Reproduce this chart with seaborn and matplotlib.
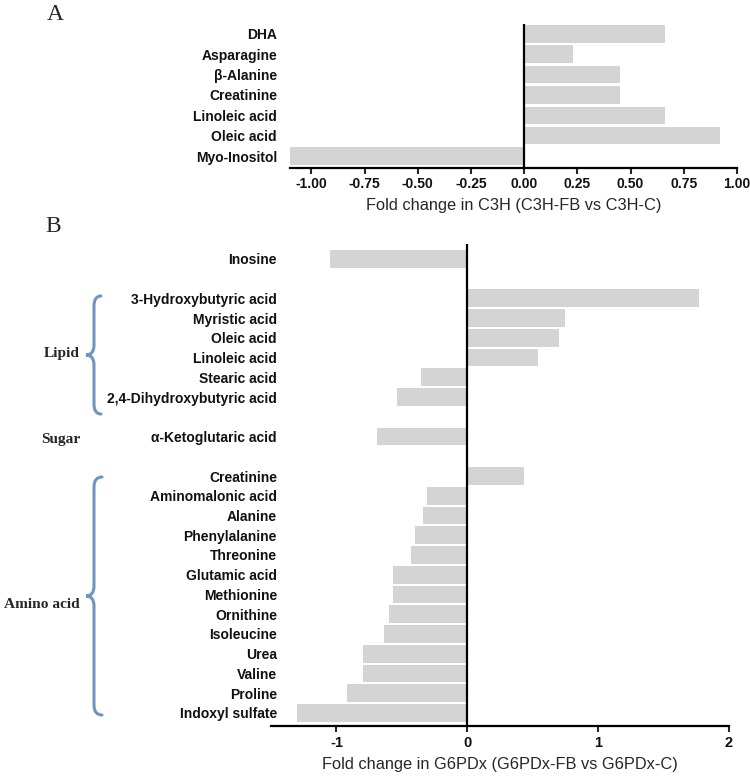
import matplotlib
matplotlib.use('Agg')
import matplotlib.pyplot as plt
from matplotlib.path import Path
from matplotlib.patches import PathPatch
import seaborn as sns
import pandas as pd

sns.set_style('white')
plt.rcParams['font.family'] = ['Liberation Sans', 'DejaVu Sans']
plt.rcParams['axes.unicode_minus'] = False

# ---- data ----
a_names = ['DHA', 'Asparagine', 'β-Alanine', 'Creatinine', 'Linoleic acid', 'Oleic acid', 'Myo-Inositol']
a_vals = [0.66, 0.23, 0.45, 0.45, 0.66, 0.92, -1.10]

b_names = ['Inosine',
           '3-Hydroxybutyric acid', 'Myristic acid', 'Oleic acid', 'Linoleic acid',
           'Stearic acid', '2,4-Dihydroxybutyric acid',
           'α-Ketoglutaric acid',
           'Creatinine', 'Aminomalonic acid', 'Alanine', 'Phenylalanine', 'Threonine',
           'Glutamic acid', 'Methionine', 'Ornithine', 'Isoleucine', 'Urea', 'Valine',
           'Proline', 'Indoxyl sulfate']
b_vals = [-1.05,
          1.77, 0.75, 0.70, 0.54, -0.35, -0.54,
          -0.69,
          0.43, -0.31, -0.34, -0.40, -0.43, -0.57, -0.57, -0.60, -0.64, -0.80, -0.80,
          -0.92, -1.30]
# empty rows between groups
b_order = (b_names[:1] + [' '] + b_names[1:7] + ['  '] + b_names[7:8] + ['   '] + b_names[8:])

groups = ['Lipid', 'Sugar', 'Amino acid']

W, H = 750, 777
fig = plt.figure(figsize=(W / 100, H / 100), dpi=100)

def fx(x):
    return x / W

def fy(y):
    return 1 - y / H

bar_col = '#d4d4d4'

# ---- panel A ----
axA = fig.add_axes([fx(290), fy(167.5), fx(737) - fx(290), fy(23.7) - fy(167.5)])
dfa = pd.DataFrame({'name': a_names, 'val': a_vals})
sns.barplot(data=dfa, x='val', y='name', order=a_names, color=bar_col,
            saturation=1, width=0.86, linewidth=0, ax=axA)
axA.set_xlim(-1.1, 1.0)
axA.set_ylim(6.56, -0.5)
a_ticks = [-1.0, -0.75, -0.5, -0.25, 0, 0.25, 0.5, 0.75, 1.0]
axA.set_xticks(a_ticks)
axA.set_xticklabels(['%.2f' % t for t in a_ticks])
axA.set_xlabel('Fold change in C3H (C3H-FB vs C3H-C)', fontsize=11.8, labelpad=5)
axA.set_ylabel('')
axA.tick_params(axis='y', length=0, pad=9.4, labelsize=10)
axA.tick_params(axis='x', length=4, width=1.5, direction='out', labelsize=10, pad=3,
                bottom=True)

# ---- panel B ----
axB = fig.add_axes([fx(271), fy(726), fx(729) - fx(271), fy(244) - fy(726)])
dfb = pd.DataFrame({'name': b_names, 'val': b_vals})
sns.barplot(data=dfb, x='val', y='name', order=b_order, color=bar_col,
            saturation=1, width=0.9, linewidth=0, ax=axB)
axB.set_xlim(-1.5, 2.0)
axB.set_ylim(23.66, -0.75)
axB.set_xticks([-1, 0, 1, 2])
axB.set_xlabel('Fold change in G6PDx (G6PDx-FB vs G6PDx-C)', fontsize=11.8, labelpad=5)
axB.set_ylabel('')
axB.tick_params(axis='y', length=0, pad=-4.3, labelsize=10)
axB.tick_params(axis='x', length=4, width=1.5, direction='out', labelsize=10.5, pad=3,
                bottom=True)

for ax in (axA, axB):
    sns.despine(ax=ax, left=True)
    ax.spines['bottom'].set_linewidth(1.6)
    ax.spines['bottom'].set_color('black')
    ax.axvline(0, color='black', lw=1.6, zorder=5)
    for lab in ax.get_yticklabels() + ax.get_xticklabels():
        lab.set_fontweight('bold')
        lab.set_color('#111111')

# panel letters
serif = ['Liberation Serif', 'DejaVu Serif']
fig.text(fx(55), fy(15), 'A', family=serif, fontsize=17, ha='center', va='center')
fig.text(fx(53), fy(226), 'B', family=serif, fontsize=17, ha='center', va='center')

# group labels
fig.text(fx(80), fy(353), groups[0], family=serif, fontweight='bold', fontsize=11.1,
         ha='right', va='center')
fig.text(fx(80), fy(439), groups[1], family=serif, fontweight='bold', fontsize=11.1,
         ha='right', va='center')
fig.text(fx(80), fy(604), groups[2], family=serif, fontweight='bold', fontsize=11.1,
         ha='right', va='center')

# curly braces
def brace(x_end, x_mid, x_tip, y_top, y_bot, y_c):
    r = 10
    pts = [(x_end, y_top), (x_mid, y_top), (x_mid, y_top + r),
           (x_mid, y_c - r),
           (x_mid, y_c), (x_tip, y_c),
           (x_mid, y_c), (x_mid, y_c + r),
           (x_mid, y_bot - r),
           (x_mid, y_bot), (x_end, y_bot)]
    codes = [Path.MOVETO, Path.CURVE3, Path.CURVE3,
             Path.LINETO,
             Path.CURVE3, Path.CURVE3,
             Path.CURVE3, Path.CURVE3,
             Path.LINETO,
             Path.CURVE3, Path.CURVE3]
    verts = [(fx(x), fy(y)) for x, y in pts]
    patch = PathPatch(Path(verts, codes), transform=fig.transFigure, fill=False,
                      edgecolor='#7096bf', lw=2.2, capstyle='round')
    fig.patches.append(patch)

brace(101, 94, 86, 296, 414, 355)
brace(102, 94, 86, 477, 715, 596)

fig.savefig('out.png', dpi=100)
